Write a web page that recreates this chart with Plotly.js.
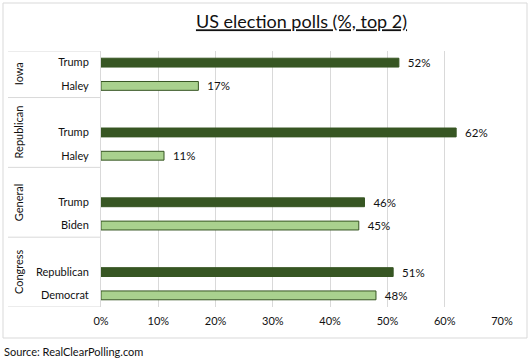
<!DOCTYPE html>
<html>
<head>
<meta charset="utf-8">
<script src="https://cdn.plot.ly/plotly-3.0.1.min.js"></script>
<style>html,body{margin:0;padding:0;background:#fff;}#chart{width:531px;height:359px;}</style>
</head>
<body>
<div id="chart"></div>
<script>
// Rows, top to bottom (blank rows separate the groups, as in the source sheet)
const rowLabels = ['Trump','Haley','','Trump','Haley','','Trump','Biden','','Republican','Democrat'];
const rowGroups = ['Iowa','Iowa','Republican','Republican','Republican','General','General','General','Congress','Congress','Congress'];
const groupNames = ['Iowa','Republican','General','Congress'];
// Leader (first row of each group) and runner-up (second row)
const leaderNames = ['Trump','Trump','Trump','Republican'];
const leaderValues = [52, 62, 46, 51];
const runnerNames = ['Haley','Haley','Biden','Democrat'];
const runnerValues = [17, 11, 45, 48];
const xTicks = [0,10,20,30,40,50,60,70];
const titleText = 'US election polls (%, top 2)';
const sourceText = 'Source: RealClearPolling.com';

const FONT = 'Lato, "Open Sans", sans-serif';
const TXT = '#111';
const DARK = '#375623', LIGHT = '#a9d18e', GRID = '#d9d9d9';

const rowIdx = rowLabels.map((_, i) => i);
const labelled = rowIdx.filter(i => rowLabels[i] !== '');
const leaderRows = groupNames.map(g => rowIdx.find(i => rowGroups[i] === g && rowLabels[i] !== ''));
const runnerRows = leaderRows.map(i => i + 1);

const pad = '\u00a0\u00a0';
const traces = [
  {type:'bar', orientation:'h', name:'Leader', x:leaderValues, y:leaderRows, width:0.38,
   marker:{color:DARK, line:{color:DARK, width:1}},
   text:leaderValues.map(v => pad + v + '%'), textposition:'outside', cliponaxis:false, constraintext:'none',
   textfont:{family:FONT, size:11.5, color:TXT}, hoverinfo:'skip'},
  {type:'bar', orientation:'h', name:'Runner-up', x:runnerValues, y:runnerRows, width:0.38,
   marker:{color:LIGHT, line:{color:DARK, width:1}},
   text:runnerValues.map(v => pad + v + '%'), textposition:'outside', cliponaxis:false, constraintext:'none',
   textfont:{family:FONT, size:11.5, color:TXT}, hoverinfo:'skip'}
];

const groupStart = groupNames.map(g => rowGroups.indexOf(g));
const groupEnd = groupNames.map(g => rowGroups.lastIndexOf(g));

const L = 101, R = 29, T = 51, B = 52, W = 531, H = 359;
const pw = W - L - R, ph = H - T - B;
const px = x => (x - L) / pw;
const py = y => (H - B - y) / ph;

const shapes = [];
shapes.push({type:'rect', xref:'paper', yref:'paper', x0:px(3), x1:px(527), y0:py(338), y1:py(3),
  line:{color:GRID, width:1}, fillcolor:'rgba(0,0,0,0)', layer:'below'});
const seps = [groupStart[0] - 0.5].concat(groupEnd.map(e => e + 0.5));
seps.forEach(s => shapes.push({type:'line', xref:'paper', yref:'y', x0:px(8), x1:0, y0:s, y1:s,
  line:{color:GRID, width:1}}));

const annotations = groupNames.map((g, k) => ({
  xref:'paper', yref:'y', x:px(18), y:(groupStart[k] + groupEnd[k]) / 2, text:g,
  textangle:-90, showarrow:false, xanchor:'center', yanchor:'middle',
  font:{family:FONT, size:11, color:TXT}
}));
annotations.push({xref:'paper', yref:'paper', x:px(2), y:py(351), text:sourceText, showarrow:false,
  xanchor:'left', yanchor:'middle', font:{family:FONT, size:11, color:TXT}});

const layout = {
  width:W, height:H, margin:{l:L, r:R, t:T, b:B, pad:0},
  paper_bgcolor:'#fff', plot_bgcolor:'#fff', showlegend:false, barmode:'overlay',
  title:{text:titleText, x:0.5, xref:'paper', y:1 - 22/H, yanchor:'middle',
    font:{family:FONT, size:18, color:TXT, lineposition:'under'}},
  xaxis:{range:[0,70], tickvals:xTicks, ticktext:xTicks.map(v => v + '%'), showgrid:true, gridcolor:GRID,
    gridwidth:1, zeroline:false, showline:false, ticks:'', ticklabelstandoff:6,
    tickfont:{family:FONT, size:11, color:TXT}, fixedrange:true},
  yaxis:{range:[rowLabels.length - 0.5, -0.5], tickvals:labelled, ticktext:labelled.map(i => rowLabels[i]),
    showgrid:false, zeroline:false, showline:true, linecolor:GRID, linewidth:1, ticks:'',
    ticklabelstandoff:9, tickfont:{family:FONT, size:11, color:TXT}, fixedrange:true},
  shapes:shapes, annotations:annotations
};

Plotly.newPlot('chart', traces, layout, {staticPlot:true, displayModeBar:false});
</script>
</body>
</html>
